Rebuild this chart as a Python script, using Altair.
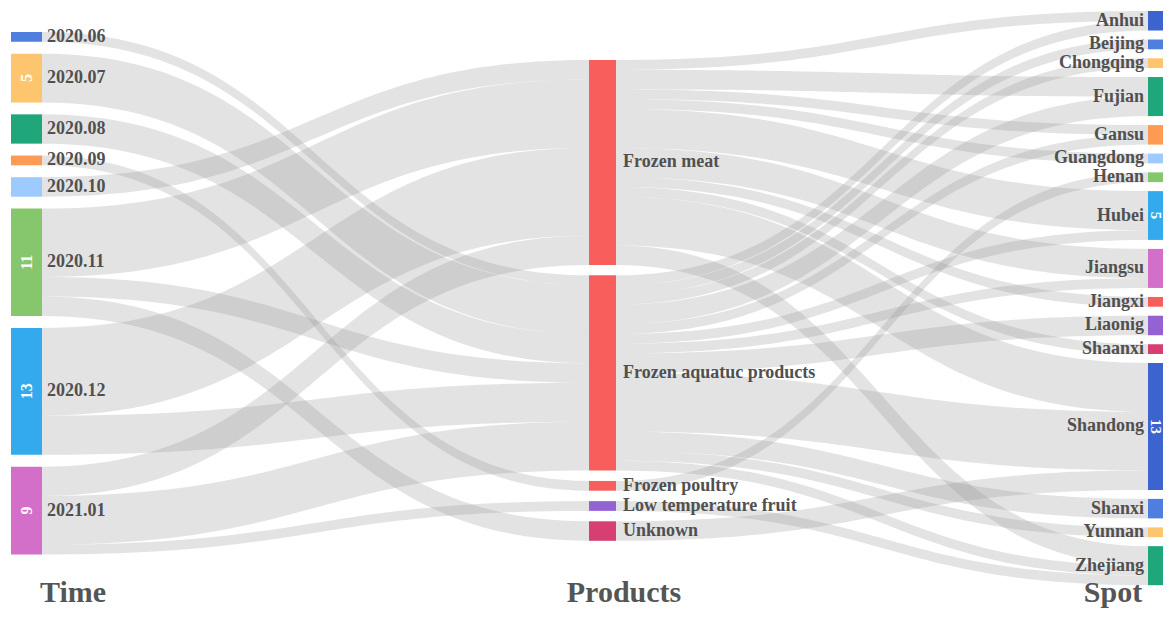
import altair as alt
import pandas as pd
import numpy as np

# ---------------- data ----------------
time_nodes = ["2020.06", "2020.07", "2020.08", "2020.09", "2020.10", "2020.11", "2020.12", "2021.01"]
product_nodes = ["Frozen meat", "Frozen aquatuc products", "Frozen poultry", "Low temperature fruit", "Unknown"]
spot_nodes = ["Anhui", "Beijing", "Chongqing", "Fujian", "Gansu", "Guangdong", "Henan", "Hubei",
              "Jiangsu", "Jiangxi", "Liaonig", "Shaanxi", "Shandong", "Shanxi", "Yunnan", "Zhejiang"]

tp_source = ["2020.06", "2020.07", "2020.08", "2020.09", "2020.10",
             "2020.11", "2020.11", "2020.11",
             "2020.12", "2020.12",
             "2021.01", "2021.01", "2021.01"]
tp_target = ["Frozen aquatuc products", "Frozen aquatuc products", "Frozen aquatuc products", "Frozen poultry", "Frozen meat",
             "Frozen meat", "Frozen aquatuc products", "Unknown",
             "Frozen meat", "Frozen aquatuc products",
             "Frozen meat", "Frozen aquatuc products", "Low temperature fruit"]
tp_value = [1, 5, 3, 1, 2, 7, 2, 2, 9, 4, 3, 5, 1]

ps_source = ["Frozen meat"] * 10 + ["Frozen aquatuc products"] * 12 + ["Frozen poultry", "Low temperature fruit", "Unknown"]
ps_target = ["Anhui", "Fujian", "Gansu", "Guangdong", "Hubei", "Jiangsu", "Jiangxi", "Shaanxi", "Shandong", "Zhejiang",
             "Anhui", "Beijing", "Chongqing", "Fujian", "Gansu", "Hubei", "Jiangsu", "Liaonig", "Shandong", "Shanxi", "Yunnan", "Zhejiang",
             "Henan", "Zhejiang", "Shandong"]
ps_value = [1, 2, 1, 1, 4, 3, 1, 1, 5, 2,
            1, 1, 1, 2, 1, 1, 1, 2, 6, 2, 1, 1,
            1, 1, 2]

time_colors = ["#4e7fde", "#fdc66e", "#1fa77b", "#ff9a55", "#9dcbff", "#86c66c", "#33aaee", "#d46fc9"]
product_colors = ["#f85f5c", "#f85f5c", "#f85f5c", "#9562d4", "#d73f73"]
spot_colors = ["#3d63cf", "#4e7fde", "#fdc66e", "#1fa77b", "#ff9a55", "#9dcbff", "#86c66c", "#33aaee",
               "#d46fc9", "#f85f5c", "#9562d4", "#d73f73", "#3d63cf", "#4e7fde", "#fdc66e", "#1fa77b"]

column_titles = ["Time", "Products", "Spot"]

# ---------------- layout ----------------
W, H = 1155, 600
K = 9.76  # px per unit
columns = [
    dict(names=time_nodes, colors=time_colors, x0=3, w=31, top=24, gap=11.9, label_dx=5, align="left", num_angle=270, show_num=True),
    dict(names=product_nodes, colors=product_colors, x0=581, w=27, top=52, gap=10.4, label_dx=7, align="left", num_angle=0, show_num=False),
    dict(names=spot_nodes, colors=spot_colors, x0=1140, w=15, top=3, gap=9.0, label_dx=-4, align="right", num_angle=90, show_num=True),
]
title_x = [65, 616, 1105]
title_y = 594

all_src = tp_source + ps_source
all_tgt = tp_target + ps_target
all_val = tp_value + ps_value


def node_value(n):
    vin = sum(v for s, t, v in zip(all_src, all_tgt, all_val) if t == n)
    vout = sum(v for s, t, v in zip(all_src, all_tgt, all_val) if s == n)
    return max(vin, vout)


node_pos = {}
node_rows = []
order = {}
for ci, col in enumerate(columns):
    y = col["top"]
    for i, (n, c) in enumerate(zip(col["names"], col["colors"])):
        v = node_value(n)
        y0, y1 = y, y + v * K
        x0, x1 = col["x0"], col["x0"] + col["w"]
        node_pos[n] = dict(x0=x0, x1=x1, y0=y0, y1=y1)
        order[n] = i
        node_rows.append(dict(name=n, value=v, x0=x0, x1=x1, y0=y0, y1=y1,
                              ym=(y0 + y1) / 2, color=c, col=ci,
                              lx=(x1 + col["label_dx"]) if col["align"] == "left" else (x0 + col["label_dx"]),
                              align=col["align"], num=str(v) if (col["show_num"] and v >= 5) else "",
                              xm=(x0 + min(x1, W)) / 2))
        y = y1 + col["gap"]
nodes = pd.DataFrame(node_rows)

# link stacking (outgoing sorted by target order, incoming by source order)
links = list(zip(all_src, all_tgt, all_val))
src_y = {}
tgt_y = {}
for n in node_pos:
    outs = sorted([i for i, l in enumerate(links) if l[0] == n], key=lambda i: order[links[i][1]])
    y = node_pos[n]["y0"]
    for i in outs:
        src_y[i] = (y, y + links[i][2] * K)
        y += links[i][2] * K
    ins = sorted([i for i, l in enumerate(links) if l[1] == n], key=lambda i: order[links[i][0]])
    y = node_pos[n]["y0"]
    for i in ins:
        tgt_y[i] = (y, y + links[i][2] * K)
        y += links[i][2] * K

rows = []
ts = np.linspace(0, 1, 60)
for i, (s, t, v) in enumerate(links):
    xa = node_pos[s]["x1"]
    xb = node_pos[t]["x0"]
    xm = (xa + xb) / 2
    for tt in ts:
        x = xa * (1 - tt) ** 3 + 3 * xm * (1 - tt) ** 2 * tt + 3 * xm * (1 - tt) * tt ** 2 + xb * tt ** 3
        f = 3 * tt ** 2 - 2 * tt ** 3
        ytop = src_y[i][0] + (tgt_y[i][0] - src_y[i][0]) * f
        ybot = src_y[i][1] + (tgt_y[i][1] - src_y[i][1]) * f
        rows.append(dict(link=i, x=x, y=ytop, y2=ybot))
link_df = pd.DataFrame(rows)

titles = pd.DataFrame(dict(text=column_titles, x=title_x, y=[title_y] * 3))

xs = alt.Scale(domain=[0, W], nice=False, zero=False)
ys = alt.Scale(domain=[0, H], reverse=True, nice=False, zero=False)

link_layer = alt.Chart(link_df).mark_area(orient="vertical", color="#999999", opacity=0.27).encode(
    x=alt.X("x:Q", scale=xs, axis=None),
    y=alt.Y("y:Q", scale=ys, axis=None),
    y2="y2:Q",
    detail="link:N",
)

node_layer = alt.Chart(nodes).mark_rect().encode(
    x=alt.X("x0:Q", scale=xs, axis=None), x2="x1:Q",
    y=alt.Y("y0:Q", scale=ys, axis=None), y2="y1:Q",
    color=alt.Color("color:N", scale=None),
)

label_font = "Liberation Serif"
left_labels = alt.Chart(nodes[nodes["align"] == "left"]).mark_text(
    align="left", baseline="middle", font=label_font, fontWeight="bold", fontSize=18, color="#505050"
).encode(x=alt.X("lx:Q", scale=xs, axis=None), y=alt.Y("ym:Q", scale=ys, axis=None), text="name:N")

right_labels = alt.Chart(nodes[nodes["align"] == "right"]).mark_text(
    align="right", baseline="middle", font=label_font, fontWeight="bold", fontSize=18, color="#505050"
).encode(x=alt.X("lx:Q", scale=xs, axis=None), y=alt.Y("ym:Q", scale=ys, axis=None), text="name:N")

num_left = alt.Chart(nodes[(nodes["num"] != "") & (nodes["col"] == 0)]).mark_text(
    align="center", baseline="middle", font=label_font, fontWeight="bold", fontSize=16, color="white", angle=270
).encode(x=alt.X("xm:Q", scale=xs, axis=None), y=alt.Y("ym:Q", scale=ys, axis=None), text="num:N")

num_right = alt.Chart(nodes[(nodes["num"] != "") & (nodes["col"] == 2)]).mark_text(
    align="center", baseline="middle", font=label_font, fontWeight="bold", fontSize=15, color="white", angle=90
).encode(x=alt.X("xm:Q", scale=xs, axis=None), y=alt.Y("ym:Q", scale=ys, axis=None), text="num:N")

title_layer = alt.Chart(titles).mark_text(
    align="center", baseline="alphabetic", font=label_font, fontWeight="bold", fontSize=30, color="#555555"
).encode(x=alt.X("x:Q", scale=xs, axis=None), y=alt.Y("y:Q", scale=ys, axis=None), text="text:N")

chart = alt.layer(link_layer, node_layer, left_labels, right_labels, num_left, num_right, title_layer).properties(
    width=W, height=H, padding=0, autosize=alt.AutoSizeParams(type="none")
).configure_view(strokeWidth=0)

chart.save("out.html", embed_options={"renderer": "svg", "actions": False})
